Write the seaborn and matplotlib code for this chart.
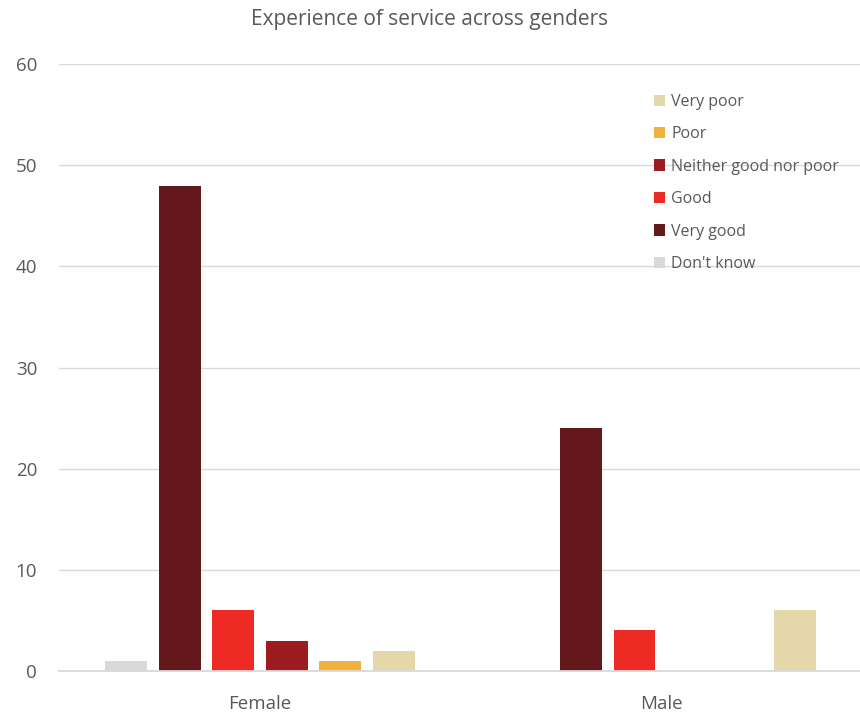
import numpy as np
import pandas as pd
import matplotlib.pyplot as plt
import seaborn as sns

sns.set_style("white")
plt.rcParams['font.family'] = ['Open Sans', 'DejaVu Sans']

genders = ["Female", "Male"]
ratings = ["Don't know", "Very good", "Good", "Neither good nor poor", "Poor", "Very poor"]
female = [1, 48, 6, 3, 1, 2]
male = [0, 24, 4, 0, 0, 6]
colors = ["#D9D9D9", "#65181C", "#EE2A24", "#9C1C20", "#F2B13E", "#E4D7AA"]

df = pd.DataFrame({
    "Gender": np.repeat(genders, len(ratings)),
    "Rating": ratings * 2,
    "Count": female + male,
})

fig = plt.figure(figsize=(8.6, 7.13), dpi=100)
ax = fig.add_axes([0.069, 0.059, 0.933, 0.851])
sns.barplot(data=df, x="Gender", y="Count", hue="Rating", hue_order=ratings,
            palette=colors, width=0.8, gap=0.22, ax=ax, saturation=1, linewidth=0)

ax.set_ylim(0, 60)
ax.set_xlim(-0.5, 1.5)
ax.set_yticks(range(0, 61, 10))
ax.yaxis.grid(True, color="#D9D9D9", linewidth=1)
ax.set_axisbelow(True)
for s in ["top", "right", "left"]:
    ax.spines[s].set_visible(False)
ax.spines["bottom"].set_color("#D9D9D9")
ax.spines["bottom"].set_linewidth(1.3)
ax.tick_params(axis="both", length=0, labelsize=13.5, colors="#595959")
ax.tick_params(axis="x", pad=17)
ax.tick_params(axis="y", pad=16)
ax.set_xlabel("")
ax.set_ylabel("")
fig.suptitle("Experience of service across genders", fontsize=15, color="#595959", y=0.988)

h, l = ax.get_legend_handles_labels()
ax.legend(h[::-1], l[::-1], loc="upper right", bbox_to_anchor=(0.99, 0.975), frameon=False,
          fontsize=11.5, labelcolor="#595959", handlelength=0.7, handleheight=0.7,
          handletextpad=0.4, labelspacing=1.03)

fig.savefig("out.png", dpi=100)
